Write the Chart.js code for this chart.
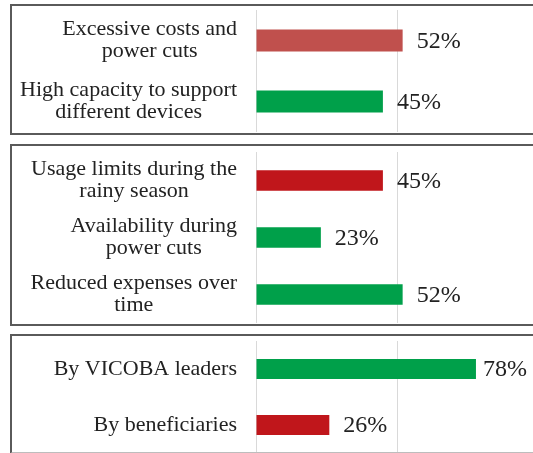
<!DOCTYPE html>
<html>
<head>
<meta charset="utf-8">
<script src="https://cdn.jsdelivr.net/npm/chart.js@4.4.0/dist/chart.umd.min.js"></script>
<style>
  html, body { margin: 0; padding: 0; background: #fff; overflow: hidden; }
  body { position: relative; width: 533px; height: 453px; }
  canvas { position: absolute; left: 12px; }
  .panel {
    position: absolute;
    left: 10px;
    width: 540px;
    box-sizing: border-box;
    border: 2px solid #5a5a5a;
    pointer-events: none;
  }
</style>
</head>
<body>
<canvas id="costChart" width="526" height="122" style="top:10px"></canvas>
<canvas id="usageChart" width="526" height="171" style="top:152px"></canvas>
<canvas id="repairChart" width="526" height="112" style="top:341px"></canvas>

<div class="panel" style="top:4px;height:131px"></div>
<div class="panel" style="top:144px;height:182px"></div>
<div class="panel" style="top:334px;height:120px;border-bottom-color:#bdbdbd"></div>

<script>
// ---------------- DATA ----------------
const costLabels = [["Excessive costs and", "power cuts"], ["High capacity to support", "different devices"]];
const costValues = [52, 45];

const usageLabels = [["Usage limits during the", "rainy season"], ["Availability during", "power cuts"], ["Reduced expenses over", "time"]];
const usageValues = [45, 23, 52];

const repairLabels = [["By VICOBA leaders"], ["By beneficiaries"]];
const repairValues = [78, 26];

const xTicks = [0, 50, 100];

// ---------------- STYLE ----------------
const RED_SOFT = "#c0504d";
const RED = "#c0161b";
const GREEN = "#00a04a";
const TEXT = "#222222";
const FONT = "'Liberation Serif', 'Times New Roman', serif";
const AXIS_WIDTH = 244;   // space left of the 0 line
const LABEL_RIGHT = 225;  // right edge of category text block
const LINE_HEIGHT = 22;

// category text: each label block right aligned, its lines centred on each other
const categoryText = {
  id: "categoryText",
  afterDraw(chart) {
    const ctx = chart.ctx;
    const yScale = chart.scales.y;
    ctx.save();
    ctx.font = "22px " + FONT;
    ctx.fillStyle = TEXT;
    ctx.textAlign = "center";
    ctx.textBaseline = "middle";
    chart.data.labels.forEach((lines, i) => {
      const maxW = Math.max(...lines.map(l => ctx.measureText(l).width));
      const cx = LABEL_RIGHT - maxW / 2;
      const cy = yScale.getPixelForValue(i);
      lines.forEach((line, j) => {
        ctx.fillText(line, cx, cy + (j - (lines.length - 1) / 2) * LINE_HEIGHT);
      });
    });
    ctx.restore();
  }
};

// percentage next to each bar
const valueText = {
  id: "valueText",
  afterDatasetsDraw(chart) {
    const ctx = chart.ctx;
    const values = chart.data.datasets[0].data;
    ctx.save();
    ctx.font = "24px " + FONT;
    ctx.fillStyle = TEXT;
    ctx.textAlign = "left";
    ctx.textBaseline = "middle";
    chart.getDatasetMeta(0).data.forEach((bar, i) => {
      const txt = values[i] + "%";
      const w = ctx.measureText(txt).width;
      const x = Math.min(bar.x + 14, chart.width - 11 - w);
      ctx.fillText(txt, x, bar.y + 1);
    });
    ctx.restore();
  }
};

function makeChart(id, labels, values, colors) {
  return new Chart(document.getElementById(id), {
    type: "bar",
    data: {
      labels,
      datasets: [{
        data: values,
        backgroundColor: colors,
        borderWidth: 0,
        categoryPercentage: 1,
        barPercentage: 0.36
      }]
    },
    options: {
      indexAxis: "y",
      responsive: false,
      animation: false,
      devicePixelRatio: 1,
      layout: { padding: 0 },
      plugins: { legend: { display: false }, tooltip: { enabled: false } },
      scales: {
        x: {
          min: xTicks[0],
          max: xTicks[xTicks.length - 1],
          afterBuildTicks: scale => { scale.ticks = xTicks.map(v => ({ value: v })); },
          ticks: { display: false },
          grid: { color: "#d9d9d9", lineWidth: 1, drawTicks: false },
          border: { display: false }
        },
        y: {
          ticks: { display: false },
          grid: { display: false },
          border: { display: false },
          afterFit: scale => { scale.width = AXIS_WIDTH; }
        }
      }
    },
    plugins: [categoryText, valueText]
  });
}

makeChart("costChart", costLabels, costValues, [RED_SOFT, GREEN]);
makeChart("usageChart", usageLabels, usageValues, [RED, GREEN, GREEN]);
makeChart("repairChart", repairLabels, repairValues, [GREEN, RED]);
</script>
</body>
</html>
